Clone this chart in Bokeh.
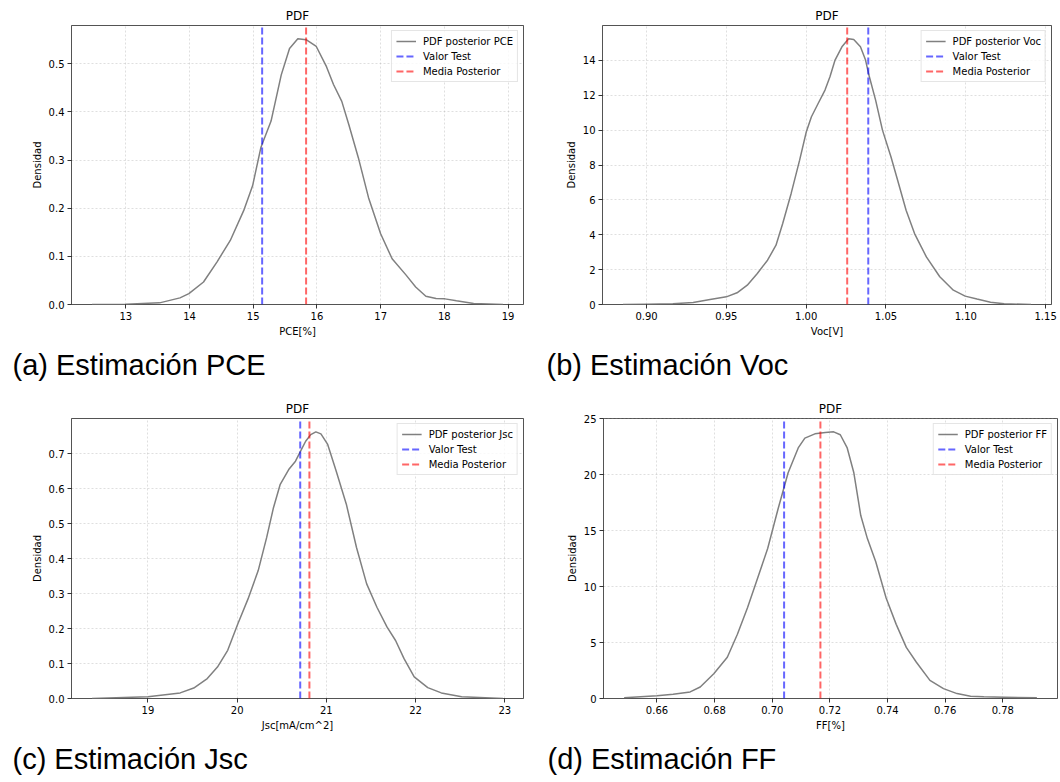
import numpy as np
from bokeh.plotting import figure
from bokeh.layouts import row, column
from bokeh.models import Range1d, Title, FixedTicker
from bokeh.embed import file_html
from bokeh.resources import INLINE

# ---------------- data ----------------
pce_x = [12.47, 13.0, 13.53, 13.85, 13.99, 14.22, 14.43, 14.64, 14.85, 14.99, 15.12, 15.28,
         15.44, 15.57, 15.70, 15.83, 15.99, 16.15, 16.26, 16.39, 16.50, 16.65, 16.81, 17.00,
         17.18, 17.40, 17.55, 17.71, 17.87, 18.01, 18.19, 18.46, 18.92]
pce_y = [0.0, 0.0007, 0.0034, 0.0138, 0.0227, 0.0468, 0.0882, 0.133, 0.195, 0.2466, 0.326, 0.381,
         0.477, 0.532, 0.552, 0.550, 0.536, 0.494, 0.457, 0.422, 0.374, 0.305, 0.222, 0.147,
         0.095, 0.061, 0.0365, 0.0172, 0.0124, 0.0117, 0.0076, 0.002, 0.0]
pce_test = 15.14
pce_mean = 15.83
pce_xticks = [13, 14, 15, 16, 17, 18, 19]
pce_xlabels = ["13", "14", "15", "16", "17", "18", "19"]
pce_yticks = [0.0, 0.1, 0.2, 0.3, 0.4, 0.5]
pce_ylabels = ["0.0", "0.1", "0.2", "0.3", "0.4", "0.5"]

voc_x = [0.8852, 0.9000, 0.9165, 0.9292, 0.9398, 0.9500, 0.9567, 0.9631, 0.9694, 0.9758, 0.9811,
         0.9853, 0.9906, 0.9959, 1.0001, 1.0033, 1.0075, 1.0118, 1.0149, 1.0181, 1.0224, 1.0266,
         1.0298, 1.0340, 1.0372, 1.0393, 1.0435, 1.0478, 1.0531, 1.0573, 1.0626, 1.0679, 1.0753,
         1.0837, 1.0922, 1.0996, 1.1070, 1.1155, 1.1240, 1.1409]
voc_y = [0.0, 0.02, 0.04, 0.115, 0.287, 0.44, 0.67, 1.11, 1.78, 2.54, 3.40,
         4.65, 6.37, 8.28, 9.91, 10.77, 11.53, 12.30, 13.06, 14.02, 14.78, 15.24,
         15.20, 14.78, 14.02, 13.16, 11.72, 10.0, 8.47, 7.13, 5.41, 4.07, 2.73,
         1.59, 0.82, 0.48, 0.31, 0.134, 0.04, 0.0]
voc_test = 1.0389
voc_mean = 1.0257
voc_xticks = [0.90, 0.95, 1.00, 1.05, 1.10, 1.15]
voc_xlabels = ["0.90", "0.95", "1.00", "1.05", "1.10", "1.15"]
voc_yticks = [0, 2, 4, 6, 8, 10, 12, 14]
voc_ylabels = ["0", "2", "4", "6", "8", "10", "12", "14"]

jsc_x = [18.373, 19.0, 19.361, 19.513, 19.665, 19.779, 19.894, 20.008, 20.122, 20.236, 20.331,
         20.407, 20.483, 20.578, 20.654, 20.711, 20.768, 20.825, 20.882, 20.939, 21.015, 21.110,
         21.224, 21.338, 21.452, 21.567, 21.681, 21.776, 21.871, 21.985, 22.137, 22.289, 22.517,
         22.98]
jsc_y = [0.0, 0.005, 0.016, 0.030, 0.057, 0.090, 0.138, 0.214, 0.285, 0.366, 0.461,
         0.546, 0.613, 0.655, 0.679, 0.708, 0.736, 0.755, 0.763, 0.757, 0.727, 0.651,
         0.556, 0.432, 0.328, 0.261, 0.204, 0.166, 0.114, 0.062, 0.031, 0.016, 0.005,
         0.0]
jsc_test = 20.707
jsc_mean = 20.81
jsc_xticks = [19, 20, 21, 22, 23]
jsc_xlabels = ["19", "20", "21", "22", "23"]
jsc_yticks = [0.0, 0.1, 0.2, 0.3, 0.4, 0.5, 0.6, 0.7]
jsc_ylabels = ["0.0", "0.1", "0.2", "0.3", "0.4", "0.5", "0.6", "0.7"]

ff_x = [0.6486, 0.6600, 0.6656, 0.6715, 0.6750, 0.6797, 0.6844, 0.6879, 0.6914, 0.6949, 0.6984,
        0.7020, 0.7055, 0.7090, 0.7113, 0.7148, 0.7184, 0.7213, 0.7236, 0.7260, 0.7283, 0.7307,
        0.7330, 0.7359, 0.7395, 0.7430, 0.7465, 0.7500, 0.7547, 0.7594, 0.7641, 0.7688, 0.7734,
        0.7805, 0.7918]
ff_y = [0.06, 0.24, 0.38, 0.59, 1.03, 2.21, 3.69, 5.75, 8.11, 10.76, 13.41,
        16.95, 20.19, 22.41, 23.29, 23.67, 23.79, 23.85, 23.59, 22.41, 20.19, 16.36,
        14.30, 12.23, 8.99, 6.63, 4.57, 3.24, 1.62, 0.88, 0.44, 0.21, 0.15,
        0.12, 0.06]
ff_test = 0.7041
ff_mean = 0.7167
ff_xticks = [0.66, 0.68, 0.70, 0.72, 0.74, 0.76, 0.78]
ff_xlabels = ["0.66", "0.68", "0.70", "0.72", "0.74", "0.76", "0.78"]
ff_yticks = [0, 5, 10, 15, 20, 25]
ff_ylabels = ["0", "5", "10", "15", "20", "25"]

FONT = "DejaVu Sans"
CAP_FONT = "Liberation Sans"


def make_panel(xs, ys, test, mean, name, xlabel, xticks, xlabels, yticks, ylabels,
               caption, width, height, bl, br, bt, bb, cap_off):
    lo, hi = min(xs), max(xs)
    pad = 0.05 * (hi - lo)
    ytop = 1.05 * max(ys)
    p = figure(width=width, height=height, output_backend="svg", toolbar_location=None,
               x_range=Range1d(lo - pad, hi + pad), y_range=Range1d(0, ytop),
               min_border_left=bl, min_border_right=br, min_border_top=bt, min_border_bottom=bb,
               background_fill_color="white", border_fill_color="white")
    p.title.text = "PDF"
    p.title.align = "center"
    p.title.text_font = FONT
    p.title.text_font_size = "12px"
    p.title.text_font_style = "normal"
    p.title.text_color = "black"
    p.title.standoff = 6

    p.outline_line_color = "black"
    p.outline_line_width = 0.8
    p.outline_line_alpha = 0.85

    for ax, ticks, labels in ((p.xaxis[0], xticks, xlabels), (p.yaxis[0], yticks, ylabels)):
        ax.ticker = FixedTicker(ticks=ticks)
        ax.major_label_overrides = {t: l for t, l in zip(ticks, labels)}
        ax.minor_tick_line_color = None
        ax.major_tick_in = 0
        ax.major_tick_out = 4
        ax.major_tick_line_width = 0.8
        ax.major_tick_line_color = "black"
        ax.axis_line_color = None
        ax.major_label_text_font = FONT
        ax.major_label_text_font_size = "10px"
        ax.major_label_text_color = "black"
        ax.major_label_standoff = 3
        ax.axis_label_text_font = FONT
        ax.axis_label_text_font_size = "10px"
        ax.axis_label_text_font_style = "normal"
        ax.axis_label_text_color = "black"
        ax.axis_label_standoff = 3
    p.xaxis[0].axis_label = xlabel
    p.yaxis[0].axis_label = "Densidad"

    p.grid.grid_line_color = "#b0b0b0"
    p.grid.grid_line_alpha = 0.5
    p.grid.grid_line_dash = "2 2"
    p.grid.grid_line_width = 0.8

    p.line(xs, ys, line_color="gray", line_width=1.5, legend_label="PDF posterior " + name)
    p.line([test, test], [0, ytop], line_color="blue", line_alpha=0.6, line_dash="7 3",
           line_width=2, legend_label="Valor Test")
    p.line([mean, mean], [0, ytop], line_color="red", line_alpha=0.6, line_dash="7 3",
           line_width=2, legend_label="Media Posterior")

    lg = p.legend[0]
    lg.location = "top_right"
    lg.margin = 5
    lg.padding = 4
    lg.spacing = 3
    lg.label_text_font = FONT
    lg.label_text_font_size = "10px"
    lg.label_text_color = "black"
    lg.label_height = 12
    lg.glyph_height = 12
    lg.glyph_width = 20
    lg.label_standoff = 7
    lg.border_line_color = "#cccccc"
    lg.border_line_width = 1
    lg.background_fill_alpha = 0.8

    cap = Title(text=caption, align="left", text_font=CAP_FONT, text_font_size="29px",
                text_font_style="normal", text_color="black", offset=cap_off, standoff=15)
    p.add_layout(cap, "below")
    return p


pa = make_panel(pce_x, pce_y, pce_test, pce_mean, "PCE", "PCE[%]", pce_xticks, pce_xlabels,
                pce_yticks, pce_ylabels, "(a) Estimación PCE", 530, 390, 71, 7, 24, 86, -59)
pb = make_panel(voc_x, voc_y, voc_test, voc_mean, "Voc", "Voc[V]", voc_xticks, voc_xlabels,
                voc_yticks, voc_ylabels, "(b) Estimación Voc", 530, 390, 72, 9, 25, 86, -56)
pc = make_panel(jsc_x, jsc_y, jsc_test, jsc_mean, "Jsc", "Jsc[mA/cm^2]", jsc_xticks, jsc_xlabels,
                jsc_yticks, jsc_ylabels, "(c) Estimación Jsc", 530, 392, 71, 7, 28, 84, -59)
pd = make_panel(ff_x, ff_y, ff_test, ff_mean, "FF", "FF[%]", ff_xticks, ff_xlabels,
                ff_yticks, ff_ylabels, "(d) Estimación FF", 530, 392, 73, 3, 26, 84, -56)

layout = column(row(pa, pb, spacing=0), row(pc, pd, spacing=0), spacing=0)

open("out.html", "w").write(file_html(layout, INLINE))
